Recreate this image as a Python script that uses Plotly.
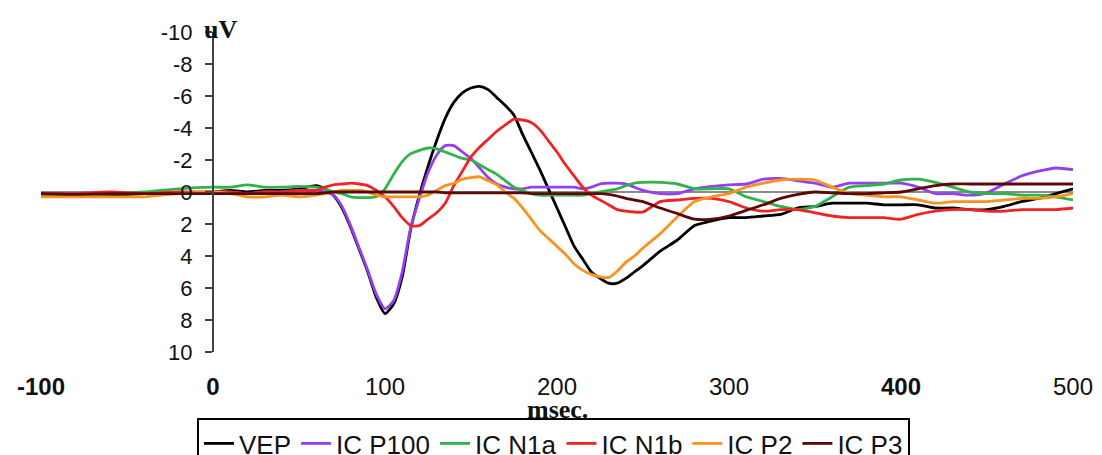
import plotly.graph_objects as go

# time axis (ms)
time_ms = [-100, -80, -60, -40, -20, 0, 10, 20, 30, 40, 50, 60,
           65, 70, 75, 80, 85, 90, 95, 100, 105, 110, 115, 120, 125, 130, 135, 140, 145, 150,
           155, 160, 165, 170, 175, 180, 185, 190, 195, 200, 205, 210, 215, 220, 225, 230,
           235, 240, 245, 250,
           260, 270, 280, 290, 300, 310, 320, 330, 340, 350, 360, 370, 380, 390, 400,
           410, 420, 430, 440, 450, 460, 470, 480, 490, 500]

vep = [0.1, 0.1, 0.2, 0.1, 0.1, 0.0, -0.1, 0.0, -0.1, -0.1, -0.2, -0.4,
       -0.2, 0.2, 1.0, 2.2, 3.6, 5.0, 6.6, 7.6, 7.0, 5.3, 2.3, 0.2, -1.6, -3.2, -4.6, -5.6, -6.2, -6.5,
       -6.6, -6.4, -5.9, -5.4, -4.8, -3.6, -2.5, -1.4, -0.2, 1.0, 2.2, 3.4, 4.2, 5.0, 5.4, 5.7,
       5.7, 5.4, 5.0, 4.6,
       3.7, 3.0, 2.1, 1.8, 1.6, 1.6, 1.5, 1.4, 1.0, 0.9, 0.7, 0.7, 0.7, 0.8, 0.8,
       0.8, 1.0, 1.0, 1.1, 1.1, 0.9, 0.6, 0.4, 0.1, -0.2]

ic_p100 = [0.1, 0.1, 0.1, 0.1, 0.1, 0.0, 0.0, 0.1, 0.0, 0.0, -0.1, -0.1,
           0.0, 0.2, 0.9, 2.1, 3.5, 4.9, 6.4, 7.3, 6.8, 5.0, 2.2, 0.4, -1.2, -2.3, -2.9, -2.9, -2.5, -2.1,
           -1.5, -0.9, -0.5, -0.3, -0.2, -0.2, -0.3, -0.3, -0.3, -0.3, -0.3, -0.3, -0.2, -0.3, -0.5, -0.55,
           -0.55, -0.5, -0.3, -0.1,
           0.1, 0.1, -0.2, -0.35, -0.45, -0.5, -0.8, -0.85, -0.7, -0.55, -0.3, -0.55, -0.55, -0.55, -0.55,
           -0.3, 0.1, 0.1, 0.2, 0.05, -0.5, -1.0, -1.3, -1.5, -1.4]

ic_n1a = [0.2, 0.2, 0.1, 0.0, -0.2, -0.3, -0.3, -0.45, -0.3, -0.3, -0.35, -0.3,
          -0.2, 0.0, 0.1, 0.3, 0.35, 0.35, 0.3, -0.2, -1.1, -1.9, -2.4, -2.6, -2.75, -2.7, -2.5, -2.3, -2.1, -2.0,
          -1.7, -1.4, -1.1, -0.7, -0.3, -0.1, 0.1, 0.2, 0.2, 0.2, 0.2, 0.2, 0.2, 0.1, 0.0, -0.1,
          -0.2, -0.4, -0.55, -0.6,
          -0.6, -0.5, -0.2, -0.2, -0.2, 0.3, 0.6, 0.9, 1.1, 0.9, 0.3, -0.3, -0.4, -0.5, -0.75,
          -0.8, -0.6, -0.3, 0.0, 0.1, 0.1, 0.2, 0.2, 0.3, 0.5]

ic_n1b = [0.1, 0.1, 0.0, 0.1, 0.0, 0.0, 0.0, 0.1, 0.0, 0.0, -0.1, -0.1,
          -0.3, -0.45, -0.5, -0.55, -0.5, -0.4, -0.1, 0.3, 0.9, 1.6, 2.1, 2.1, 1.7, 1.3, 0.7, -0.4, -1.3, -2.2,
          -2.8, -3.3, -3.8, -4.2, -4.55, -4.5, -4.35, -3.9, -3.2, -2.5, -1.7, -1.0, -0.3, 0.2, 0.5, 0.8,
          1.1, 1.2, 1.25, 1.25,
          0.6, 0.5, 0.4, 0.4, 0.6, 1.0, 1.2, 1.1, 1.1, 1.3, 1.5, 1.6, 1.6, 1.6, 1.7,
          1.4, 1.2, 1.1, 1.1, 1.2, 1.2, 1.1, 1.1, 1.1, 1.0]

ic_p2 = [0.3, 0.3, 0.3, 0.3, 0.1, 0.0, 0.1, 0.3, 0.3, 0.2, 0.3, 0.2,
         0.1, 0.0, -0.1, -0.1, -0.1, 0.0, 0.2, 0.3, 0.3, 0.3, 0.3, 0.3, 0.2, -0.1, -0.4, -0.55, -0.8, -0.9,
         -0.95, -0.7, -0.45, 0.0, 0.4, 1.0, 1.7, 2.4, 2.9, 3.4, 3.9, 4.5, 4.9, 5.15, 5.3, 5.35,
         4.95, 4.4, 4.0, 3.5,
         2.6, 1.55, 0.6, 0.3, 0.1, -0.3, -0.55, -0.75, -0.8, -0.75, -0.3, 0.1, 0.2, 0.3, 0.3,
         0.5, 0.7, 0.6, 0.6, 0.6, 0.5, 0.4, 0.4, 0.3, 0.1]

ic_p3 = [0.1, 0.15, 0.1, 0.1, 0.1, 0.1, 0.1, 0.1, 0.1, 0.1, 0.1, 0.1,
         0.05, 0.0, 0.0, 0.0, 0.0, 0.0, 0.0, 0.0, 0.0, 0.0, 0.0, 0.0, 0.0, 0.0, 0.05, 0.05, 0.05, 0.05,
         0.05, 0.05, 0.05, 0.05, 0.05, 0.05, 0.1, 0.1, 0.1, 0.1, 0.1, 0.1, 0.1, 0.1, 0.1, 0.15,
         0.25, 0.4, 0.5, 0.6,
         1.0, 1.35, 1.7, 1.7, 1.5, 1.15, 0.8, 0.4, 0.15, 0.0, 0.05, 0.1, 0.1, 0.05, 0.0,
         -0.2, -0.4, -0.5, -0.5, -0.5, -0.5, -0.5, -0.5, -0.5, -0.5]

series_names = ["VEP", "IC P100", "IC N1a", "IC N1b", "IC P2", "IC P3"]
series_values = [vep, ic_p100, ic_n1a, ic_n1b, ic_p2, ic_p3]
series_colors = ["#000000", "#9440ee", "#2fb34a", "#ee2424", "#f7931e", "#5a0808"]

x_tick_vals = [-100, 0, 100, 200, 300, 400, 500]
x_tick_text = ["<b>-100</b>", "<b>0</b>", "100", "200", "300", "<b>400</b>", "500"]
y_tick_vals = [-10, -8, -6, -4, -2, 0, 2, 4, 6, 8, 10]
y_tick_text = ["-10", "-8", "-6", "-4", "-2", "0", "2", "4", "6", "8", "10"]

fig = go.Figure()
for name, vals, col in zip(series_names, series_values, series_colors):
    fig.add_trace(go.Scatter(
        x=time_ms, y=vals, name=name, mode="lines",
        line=dict(color=col, width=2.8, shape="spline", smoothing=0.6),
    ))

L, R, T, B = 41, 29, 32, 103
W, H = 1102, 455
plot_w = W - L - R
plot_h = H - T - B

fig.update_layout(
    width=W, height=H,
    margin=dict(l=L, r=R, t=T, b=B, autoexpand=False),
    paper_bgcolor="white", plot_bgcolor="white",
    font=dict(family="Liberation Sans, Arial, sans-serif", color="#111111"),
    xaxis=dict(
        range=[-100, 500], showgrid=False, zeroline=False, showline=False,
        tickvals=x_tick_vals, ticktext=x_tick_text,
        ticks="outside", ticklen=13, tickcolor="rgba(0,0,0,0)",
        tickfont=dict(size=24, color="#111111"),
    ),
    yaxis=dict(
        range=[10, -10], showgrid=False,
        zeroline=True, zerolinecolor="#8c8c8c", zerolinewidth=2,
        showline=True, linecolor="#444444", linewidth=2,
        anchor="free", position=100 / 600,
        tickvals=y_tick_vals, ticktext=y_tick_text,
        ticks="outside", ticklen=7, tickwidth=2, tickcolor="#444444",
        ticklabelstandoff=8,
        tickfont=dict(size=22, color="#111111"),
    ),
    legend=dict(
        orientation="h", x=(197 - L) / plot_w, y=(T + plot_h - 418) / plot_h,
        xanchor="left", yanchor="top",
        bordercolor="#000000", borderwidth=2, bgcolor="white",
        font=dict(size=26, color="#111111", family="Liberation Sans, Arial, sans-serif"),
    ),
    showlegend=True,
)

fig.add_annotation(
    x=0, xref="x", y=(T + plot_h - 30) / plot_h, yref="paper",
    text="<b>uV</b>", showarrow=False, xanchor="left", yanchor="middle", xshift=-11,
    font=dict(family="Liberation Serif, Times New Roman, serif", size=26, color="#111111"),
)
fig.add_annotation(
    x=200, xref="x", y=(T + plot_h - 409) / plot_h, yref="paper",
    text="<b>msec.</b>", showarrow=False, xanchor="center", yanchor="middle",
    font=dict(family="Liberation Serif, Times New Roman, serif", size=26, color="#111111"),
)

fig.write_html("out.html", config={"displayModeBar": False},
               post_script="document.body.style.margin='0';")
